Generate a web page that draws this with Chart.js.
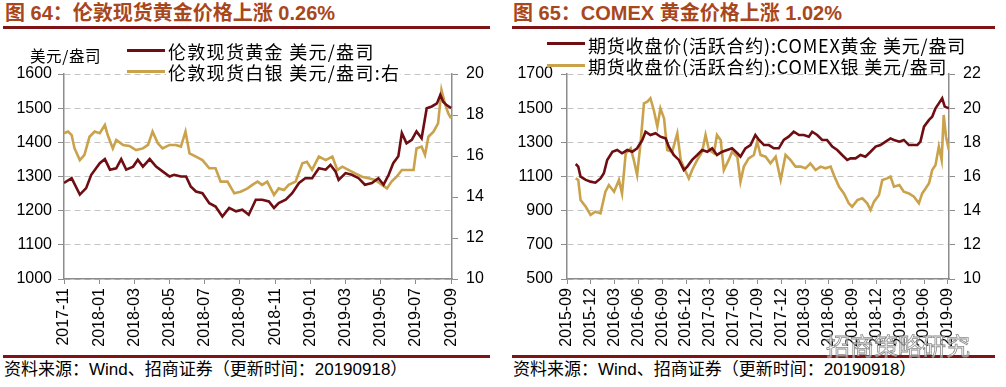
<!DOCTYPE html>
<html>
<head>
<meta charset="utf-8">
<script src="https://cdn.jsdelivr.net/npm/chart.js@4/dist/chart.umd.min.js"></script>
<style>
  body { margin: 0; background: #fff; }
  #wrap { position: relative; width: 1006px; height: 387px; overflow: hidden; }
  .title { position: absolute; top: 1px; font: bold 20px "Liberation Sans", "Noto Sans CJK SC", sans-serif; color: #a9471c; line-height: 24px; white-space: nowrap; }
  .rule { position: absolute; height: 3px; background: #7e1416; }
  .src { position: absolute; top: 360px; font: 17px "Liberation Sans", "Noto Sans CJK SC", sans-serif; color: #000; line-height: 20px; white-space: nowrap; }
  canvas { position: absolute; }
  .lg { position: absolute; font: 18px "Noto Sans CJK SC", sans-serif; line-height: 20px; color: #000; background: #fff; white-space: nowrap; }
  .sw { position: absolute; width: 38px; height: 3px; }
  .unit { position: absolute; font: 15.5px "Noto Sans CJK SC", sans-serif; line-height: 18px; color: #000; white-space: nowrap; }
  .wm { position: absolute; left: 826px; top: 327px; font: 24px "Noto Sans CJK SC", sans-serif; color: rgba(255,255,255,0.5); -webkit-text-stroke: 0.8px #8a8a8a; white-space: nowrap; }
</style>
</head>
<body>
<div id="wrap">
  <div class="title" style="left:5px">图 64：伦敦现货黄金价格上涨 0.26%</div>
  <div class="rule" style="left:3px;top:26px;width:487px"></div>
  <div class="title" style="left:513px">图 65：COMEX 黄金价格上涨 1.02%</div>
  <div class="rule" style="left:512px;top:26px;width:483px"></div>

  <canvas id="c1" width="500" height="325" style="left:0;top:30px"></canvas>
  <canvas id="c2" width="500" height="325" style="left:506px;top:30px"></canvas>

  <div class="unit" style="left:30px;top:46px;letter-spacing:0.6px">美元/盎司</div>
  <div class="sw" style="left:127px;top:49px;background:#6e0d12"></div>
  <div class="lg" style="left:166px;top:41px;padding-left:2px;letter-spacing:1.3px">伦敦现货黄金 美元/盎司</div>
  <div class="sw" style="left:127px;top:70px;background:#c9a24b"></div>
  <div class="lg" style="left:166px;top:62px;padding-left:2px;letter-spacing:1.3px">伦敦现货白银 美元/盎司:右</div>

  <div class="sw" style="left:547px;top:42px;background:#6e0d12"></div>
  <div class="lg" style="left:586px;top:35px;padding-left:2px;background:transparent;letter-spacing:0.8px">期货收盘价(活跃合约):COMEX黄金 美元/盎司</div>
  <div class="sw" style="left:547px;top:64px;background:#c9a24b"></div>
  <div class="lg" style="left:586px;top:56px;padding-left:2px;background:transparent;letter-spacing:0.8px">期货收盘价(活跃合约):COMEX银 美元/盎司</div>

  <div class="rule" style="left:3px;top:355px;width:487px"></div>
  <div class="src" style="left:4px">资料来源：Wind、招商证券（更新时间：20190918）</div>
  <div class="rule" style="left:512px;top:355px;width:483px"></div>
  <div class="src" style="left:513px">资料来源：Wind、招商证券（更新时间：20190918）</div>
  <div class="wm">招商策略研究</div>
</div>

<script>
// ---- 图64 伦敦现货 ----
const londonTicks = ['2017-11','2018-01','2018-03','2018-05','2018-07','2018-09','2018-11','2019-01','2019-03','2019-05','2019-07','2019-09'];

const londonGoldDates = ['2017-11-01','2017-11-14','2017-11-28','2017-12-09','2017-12-18','2018-01-02','2018-01-11','2018-01-20','2018-01-31','2018-02-08','2018-02-16','2018-02-27','2018-03-07','2018-03-16','2018-03-28','2018-04-08','2018-04-19','2018-05-01','2018-05-09','2018-05-21','2018-05-30','2018-06-07','2018-06-16','2018-06-27','2018-07-09','2018-07-20','2018-08-01','2018-08-13','2018-08-25','2018-09-05','2018-09-16','2018-09-28','2018-10-09','2018-10-21','2018-10-30','2018-11-07','2018-11-19','2018-11-30','2018-12-12','2018-12-23','2019-01-04','2019-01-16','2019-01-28','2019-02-05','2019-02-13','2019-02-18','2019-03-01','2019-03-12','2019-03-24','2019-04-04','2019-04-16','2019-04-27','2019-05-06','2019-05-15','2019-05-23','2019-06-01','2019-06-07','2019-06-15','2019-06-24','2019-07-02','2019-07-11','2019-07-20','2019-07-29','2019-08-07','2019-08-13','2019-08-18','2019-08-24','2019-09-01'];
const londonGold = [1281,1295,1247,1266,1305,1339,1351,1320,1324,1351,1320,1329,1349,1329,1351,1329,1315,1300,1305,1300,1300,1271,1256,1251,1222,1212,1183,1208,1198,1203,1188,1232,1232,1227,1208,1222,1232,1251,1281,1295,1295,1324,1320,1334,1315,1290,1310,1305,1295,1276,1281,1295,1276,1305,1339,1359,1427,1397,1407,1432,1412,1500,1505,1514,1539,1519,1509,1500];

const londonSilverDates = ['2017-11-01','2017-11-08','2017-11-14','2017-11-19','2017-11-28','2017-12-06','2017-12-15','2017-12-24','2018-01-02','2018-01-11','2018-01-16','2018-01-25','2018-01-31','2018-02-11','2018-02-21','2018-03-04','2018-03-16','2018-03-25','2018-04-02','2018-04-11','2018-04-19','2018-05-01','2018-05-12','2018-05-21','2018-05-29','2018-06-05','2018-06-16','2018-06-27','2018-07-09','2018-07-20','2018-07-29','2018-08-10','2018-08-22','2018-09-02','2018-09-14','2018-09-22','2018-10-01','2018-10-09','2018-10-18','2018-10-30','2018-11-07','2018-11-16','2018-11-24','2018-12-06','2018-12-18','2018-12-26','2019-01-04','2019-01-16','2019-01-28','2019-02-08','2019-02-16','2019-02-24','2019-03-06','2019-03-18','2019-03-30','2019-04-10','2019-04-22','2019-05-03','2019-05-12','2019-05-20','2019-05-29','2019-06-07','2019-06-18','2019-06-27','2019-07-02','2019-07-11','2019-07-17','2019-07-23','2019-08-01','2019-08-09','2019-08-15','2019-08-21','2019-08-27','2019-09-01'];
const londonSilver = [17.11,17.19,17.02,16.37,15.8,16.05,16.94,17.19,17.11,17.51,17.02,16.37,16.78,16.54,16.49,16.29,16.37,16.54,17.19,16.62,16.37,16.54,16.54,16.46,17.19,16.13,15.97,15.8,15.4,15.4,14.75,14.75,14.18,14.26,14.42,14.59,14.75,14.59,14.75,14.1,14.42,14.34,14.59,14.75,15.64,15.72,15.32,15.97,15.8,15.97,15.32,15.48,15.32,15.15,14.99,14.91,14.83,14.59,14.42,14.75,14.99,15.32,15.32,15.32,16.37,16.46,16.05,16.94,17.19,17.59,19.22,18.57,18.08,17.84];

// ---- 图65 COMEX ----
const comexTicks = ['2015-09','2015-12','2016-03','2016-06','2016-09','2016-12','2017-03','2017-06','2017-09','2017-12','2018-03','2018-06','2018-09','2018-12','2019-03','2019-06','2019-09'];

const comexGoldDates = ['2015-10-04','2015-10-14','2015-10-23','2015-11-12','2015-11-30','2015-12-19','2016-01-08','2016-01-21','2016-02-03','2016-02-22','2016-03-11','2016-03-30','2016-04-19','2016-05-08','2016-05-27','2016-06-16','2016-06-28','2016-07-17','2016-08-06','2016-08-25','2016-09-14','2016-09-26','2016-10-15','2016-11-04','2016-11-23','2016-12-06','2016-12-25','2017-01-14','2017-02-02','2017-02-20','2017-03-10','2017-03-29','2017-04-18','2017-05-07','2017-05-26','2017-06-15','2017-06-27','2017-07-16','2017-08-05','2017-08-24','2017-09-07','2017-09-26','2017-10-15','2017-11-03','2017-11-22','2017-12-11','2017-12-30','2018-01-19','2018-02-08','2018-02-25','2018-03-16','2018-03-29','2018-04-17','2018-05-06','2018-05-25','2018-06-14','2018-07-03','2018-07-22','2018-08-11','2018-08-24','2018-09-12','2018-10-01','2018-10-20','2018-11-09','2018-11-28','2018-12-17','2019-01-06','2019-01-25','2019-02-07','2019-02-26','2019-03-15','2019-04-04','2019-04-16','2019-05-06','2019-05-18','2019-06-01','2019-06-20','2019-07-02','2019-07-15','2019-07-28','2019-08-10','2019-08-20','2019-09-05'];
const comexGold = [1173,1158,1099,1080,1070,1064,1089,1119,1197,1245,1255,1236,1255,1245,1265,1314,1362,1343,1353,1333,1323,1275,1226,1197,1138,1158,1197,1226,1255,1245,1265,1226,1245,1255,1265,1236,1216,1265,1284,1343,1314,1284,1284,1265,1265,1314,1333,1362,1343,1343,1333,1362,1343,1314,1314,1275,1255,1226,1197,1206,1206,1226,1216,1245,1275,1284,1304,1323,1314,1304,1314,1284,1284,1284,1304,1392,1431,1450,1499,1528,1558,1509,1499];

const comexSilverDates = ['2015-10-04','2015-10-14','2015-10-23','2015-11-12','2015-11-30','2015-12-19','2016-01-08','2016-01-27','2016-02-09','2016-02-28','2016-03-18','2016-03-30','2016-04-13','2016-05-02','2016-05-14','2016-05-27','2016-06-09','2016-06-22','2016-07-05','2016-07-17','2016-07-30','2016-08-13','2016-08-25','2016-09-08','2016-09-20','2016-10-09','2016-10-29','2016-11-11','2016-11-30','2016-12-12','2016-12-25','2017-01-14','2017-02-02','2017-02-14','2017-02-26','2017-03-17','2017-03-29','2017-04-12','2017-04-24','2017-05-13','2017-05-26','2017-06-15','2017-06-27','2017-07-10','2017-07-29','2017-08-18','2017-08-31','2017-09-13','2017-10-02','2017-10-21','2017-11-10','2017-11-29','2017-12-18','2018-01-06','2018-01-26','2018-02-13','2018-03-03','2018-03-22','2018-04-11','2018-04-30','2018-05-19','2018-06-08','2018-06-20','2018-07-10','2018-07-29','2018-08-17','2018-08-30','2018-09-19','2018-10-08','2018-10-27','2018-11-09','2018-11-22','2018-12-11','2018-12-24','2019-01-12','2019-01-25','2019-02-07','2019-02-26','2019-03-15','2019-04-04','2019-04-23','2019-05-12','2019-05-25','2019-06-07','2019-06-20','2019-07-02','2019-07-15','2019-07-28','2019-08-08','2019-08-16','2019-08-25','2019-09-05'];
const comexSilver = [15.89,15.8,14.62,14.23,13.75,13.94,13.84,15.11,15.5,15.11,15.8,15.01,17.36,17.65,16.97,16.09,17.94,20.28,20.38,20.58,19.89,18.92,19.99,19.4,17.55,17.45,18.53,16.97,16.28,15.89,16.38,16.97,17.45,18.43,17.55,17.36,18.43,18.14,16.38,16.97,17.45,17.16,15.7,16.58,17.06,17.26,18.04,17.26,17.16,16.77,17.16,15.8,17.26,16.97,16.58,16.58,16.48,16.77,16.38,16.58,16.48,16.58,16.09,15.4,15.01,14.43,14.23,14.62,14.72,14.43,14.04,14.53,14.92,15.8,15.89,15.99,15.4,15.5,15.11,15.01,14.82,14.43,15.01,15.3,15.6,16.38,16.67,17.75,16.97,19.6,18.33,17.55];

const GOLD_COLOR = '#6e0d12';
const SILVER_COLOR = '#c9a24b';

// fractional months since base month ("YYYY-MM")
function monthsSince(dateStr, base) {
  const [y, m, d] = dateStr.split('-').map(Number);
  const [by, bm] = base.split('-').map(Number);
  const dim = new Date(y, m, 0).getDate();
  return (y - by) * 12 + (m - bm) + (d - 1) / dim;
}

function points(dates, values, base) {
  return dates.map((d, i) => ({ x: monthsSince(d, base), y: values[i] }));
}

Chart.defaults.font.family = '"Liberation Sans", Arial, sans-serif';
Chart.defaults.font.size = 16;
Chart.defaults.color = '#000';

function makeChart(id, cfg) {
  const base = cfg.ticks[0];
  const tickPos = cfg.ticks.map(t => monthsSince(t + '-01', base));
  return new Chart(document.getElementById(id), {
    type: 'line',
    data: {
      datasets: [
        { label: cfg.goldLabel, data: points(cfg.goldDates, cfg.gold, base), yAxisID: 'y',
          borderColor: GOLD_COLOR, borderWidth: 2.6, pointRadius: 0, tension: 0 },
        { label: cfg.silverLabel, data: points(cfg.silverDates, cfg.silver, base), yAxisID: 'y2',
          borderColor: SILVER_COLOR, borderWidth: 2.6, pointRadius: 0, tension: 0 }
      ]
    },
    options: {
      responsive: false,
      animation: false,
      devicePixelRatio: 1,
      layout: { padding: { top: 44, left: 0, right: 0, bottom: 0 } },
      plugins: { legend: { display: false }, tooltip: { enabled: false } },
      scales: {
        x: {
          type: 'linear',
          min: 0,
          max: cfg.xMax,
          afterBuildTicks: s => { s.ticks = tickPos.map(v => ({ value: v })); },
          afterFit: s => { s.height = 76; },
          ticks: { autoSkip: false, minRotation: 90, maxRotation: 90, padding: 4,
                   callback: (v, i) => cfg.ticks[i] },
          grid: { drawOnChartArea: false, tickLength: 5, tickColor: '#8c8c8c' },
          border: { color: '#8c8c8c', width: 1.5 }
        },
        y: {
          position: 'left',
          min: cfg.yMin, max: cfg.yMax,
          afterBuildTicks: s => {
            const t = [];
            for (let v = cfg.yMin; v <= cfg.yMax; v += cfg.yStep) t.push({ value: v });
            s.ticks = t;
          },
          afterFit: s => { s.width = cfg.leftWidth; },
          ticks: { padding: cfg.leftPad, callback: v => String(v) },
          grid: { color: '#c4c4c4', lineWidth: 1, tickLength: 6, tickColor: '#8c8c8c', tickBorderDash: [] },
          border: { color: '#8c8c8c', width: 1.5, dash: [6, 4] }
        },
        y2: {
          position: 'right',
          min: cfg.y2Min, max: cfg.y2Max,
          afterBuildTicks: s => {
            const t = [];
            for (let v = cfg.y2Min; v <= cfg.y2Max; v += 2) t.push({ value: v });
            s.ticks = t;
          },
          afterFit: s => { s.width = cfg.rightWidth; },
          ticks: { padding: 8, callback: v => String(v) },
          grid: { drawOnChartArea: false, tickLength: 6, tickColor: '#8c8c8c' },
          border: { color: '#8c8c8c', width: 1.5 }
        }
      }
    }
  });
}

makeChart('c1', {
  ticks: londonTicks, xMax: 22.05,
  goldLabel: '伦敦现货黄金 美元/盎司', goldDates: londonGoldDates, gold: londonGold,
  silverLabel: '伦敦现货白银 美元/盎司:右', silverDates: londonSilverDates, silver: londonSilver,
  yMin: 1000, yMax: 1600, yStep: 100, y2Min: 10, y2Max: 20,
  leftWidth: 64, leftPad: 6, rightWidth: 48
});

makeChart('c2', {
  ticks: comexTicks, xMax: 48.15,
  goldLabel: '期货收盘价(活跃合约):COMEX黄金 美元/盎司', goldDates: comexGoldDates, gold: comexGold,
  silverLabel: '期货收盘价(活跃合约):COMEX银 美元/盎司', silverDates: comexSilverDates, silver: comexSilver,
  yMin: 500, yMax: 1700, yStep: 200, y2Min: 10, y2Max: 22,
  leftWidth: 61, leftPad: 8, rightWidth: 57
});
</script>
</body>
</html>
